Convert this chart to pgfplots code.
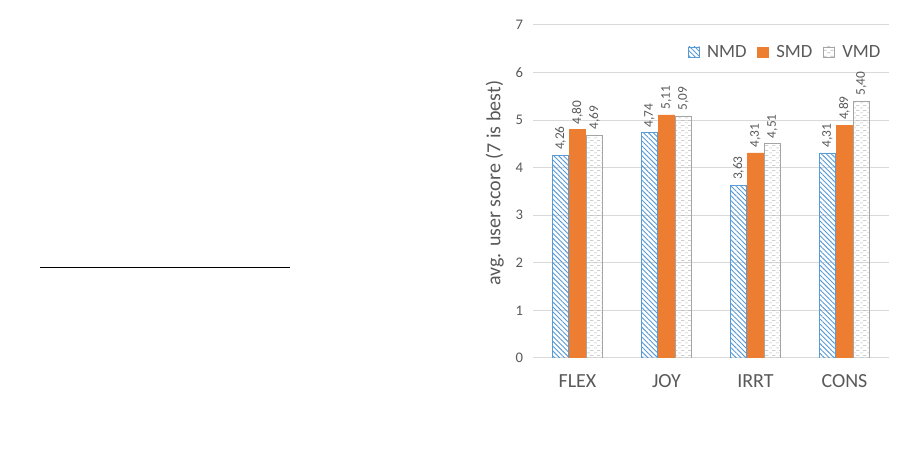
\documentclass[border=0pt]{standalone}
\usepackage{fontspec}
\setmainfont{Carlito}
\usepackage{pgfplots}
\pgfplotsset{compat=1.18}
\usetikzlibrary{patterns,patterns.meta}
\definecolor{nmdblue}{HTML}{5B9BD5}
\definecolor{smdorange}{HTML}{ED7D31}
\definecolor{vmdgray}{HTML}{A5A5A5}
\definecolor{txtgray}{HTML}{595959}
\definecolor{gridgray}{HTML}{D9D9D9}
\pgfdeclarepatternformonly{dashhoriz}{\pgfpointorigin}{\pgfpoint{5pt}{4pt}}{\pgfpoint{5pt}{4pt}}{%
  \pgfsetlinewidth{0.5pt}%
  \pgfpathmoveto{\pgfpoint{0pt}{1pt}}\pgfpathlineto{\pgfpoint{2.5pt}{1pt}}%
  \pgfpathmoveto{\pgfpoint{2.5pt}{3pt}}\pgfpathlineto{\pgfpoint{5pt}{3pt}}%
  \pgfusepath{stroke}}

\begin{document}
\begin{tikzpicture}
\path[use as bounding box] (0,0) rectangle (675.75pt,345pt);
\draw[line width=0.75pt] (30pt,144pt) -- (217.5pt,144pt);
\begin{axis}[
    at={(399.75pt,76.5pt)}, anchor=south west,
    scale only axis,
    width=267pt, height=249.75pt,
    ybar=0.75pt, bar width=12pt,
    xmin=-0.5, xmax=3.5,
    ymin=0, ymax=7,
    xtick=data,
    xticklabels={FLEX,JOY,IRRT,CONS},
    ytick={0,1,...,7},
    axis line style={draw=none},
    ymajorgrids, grid style={gridgray, line width=0.75pt},
    major tick length=0pt,
    /pgf/number format/assume math mode=true,
    tick label style={text=txtgray},
    yticklabel style={font=\fontsize{11pt}{13pt}\selectfont, xshift=-4pt},
    xticklabel style={font=\fontsize{15pt}{17pt}\selectfont, yshift=-9pt},
    ylabel={avg. user score (7 is best)},
    ylabel style={at={(ticklabel cs:0.525)}, font=\fontsize{15pt}{17pt}\selectfont, text=txtgray, yshift=2pt},
    nodes near coords={\pgfmathprintnumber[fixed,fixed zerofill,precision=2,use comma]{\pgfplotspointmeta}},
    every node near coord/.append style={rotate=90, anchor=west, font=\fontsize{10pt}{11pt}\selectfont, text=txtgray, xshift=0.5pt},
    legend style={at={(0.995,0.918)}, anchor=east, draw=none, fill=none,
        legend columns=-1, font=\fontsize{14pt}{16pt}\selectfont, text=txtgray,
        /tikz/every odd column/.append style={column sep=3.5pt},
        /tikz/every even column/.append style={column sep=6pt}},
    legend image code/.code={\draw[#1] (0pt,-4pt) rectangle (8.5pt,4pt);},
]
\addplot[draw=nmdblue, pattern={Lines[angle=-45,distance=2.6pt,line width=0.7pt]}, pattern color=nmdblue]
  coordinates {(0,4.26) (1,4.74) (2,3.63) (3,4.31)};
\addplot[draw=smdorange, fill=smdorange]
  coordinates {(0,4.80) (1,5.11) (2,4.31) (3,4.89)};
\addplot[draw=vmdgray, pattern=dashhoriz, pattern color=vmdgray!80]
  coordinates {(0,4.69) (1,5.09) (2,4.51) (3,5.40)};
\legend{NMD,SMD,VMD}
\end{axis}
\end{tikzpicture}
\end{document}
